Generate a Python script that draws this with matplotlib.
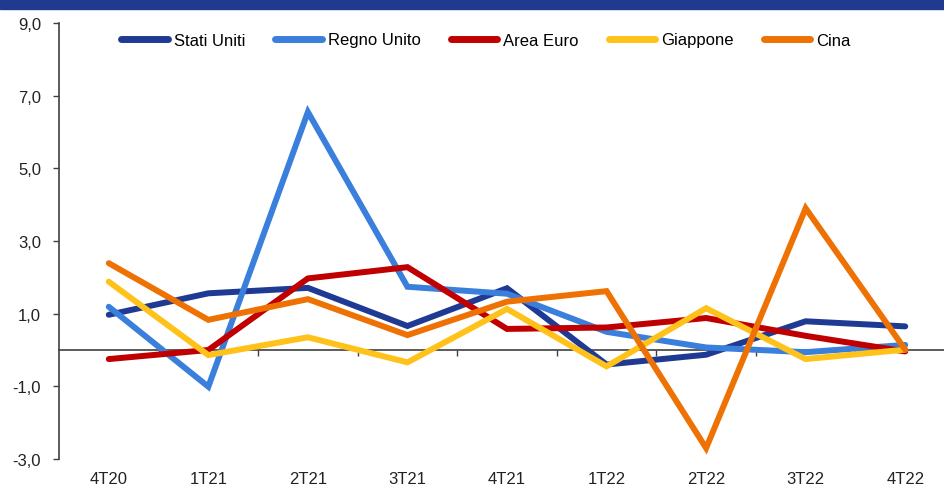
import matplotlib
matplotlib.use("Agg")
import matplotlib.pyplot as plt
from matplotlib.patches import Rectangle
from matplotlib.ticker import FuncFormatter, FixedLocator

plt.rcParams['font.family'] = ['Liberation Sans', 'DejaVu Sans']

categories = ["4T20", "1T21", "2T21", "3T21", "4T21", "1T22", "2T22", "3T22", "4T22"]
stati_uniti = [0.97, 1.56, 1.71, 0.66, 1.70, -0.40, -0.13, 0.79, 0.65]
regno_unito = [1.19, -1.01, 6.55, 1.74, 1.55, 0.50, 0.07, -0.06, 0.14]
area_euro = [-0.25, 0.0, 1.97, 2.28, 0.58, 0.62, 0.88, 0.39, -0.04]
giappone = [1.88, -0.14, 0.35, -0.34, 1.13, -0.45, 1.15, -0.25, 0.01]
cina = [2.39, 0.83, 1.40, 0.41, 1.33, 1.62, -2.70, 3.90, 0.01]

series = [
    ("Stati Uniti", stati_uniti, "#1F3A93"),
    ("Regno Unito", regno_unito, "#3A7FDB"),
    ("Area Euro", area_euro, "#C00000"),
    ("Giappone", giappone, "#FFC21A"),
    ("Cina", cina, "#EE7203"),
]

W, H = 944, 489
fig = plt.figure(figsize=(W / 100, H / 100), dpi=100)
ax = fig.add_axes([59 / W, (H - 460) / H, 896 / W, 436 / H])

x = list(range(len(categories)))
handles = []
for name, vals, col in series:
    h, = ax.plot(x, vals, color=col, lw=4.3, solid_capstyle='round',
                 solid_joinstyle='miter', label=name, zorder=3)
    handles.append(h)

ax.set_xlim(-0.5, len(categories) - 0.5)
ax.set_ylim(-3, 9)
ax.set_yticks([-3, -1, 1, 3, 5, 7, 9])
ax.yaxis.set_major_formatter(FuncFormatter(lambda v, p: f"{v:.1f}".replace('.', ',')))
ax.tick_params(axis='y', direction='out', length=4, width=1, color='#404040',
               labelsize=12, pad=9, labelcolor='#222222')

for s in ['top', 'right']:
    ax.spines[s].set_visible(False)
ax.spines['left'].set_color('#404040')
ax.spines['left'].set_linewidth(1.2)
ax.spines['bottom'].set_position(('data', 0))
ax.spines['bottom'].set_color('#404040')
ax.spines['bottom'].set_linewidth(1.2)
ax.spines['bottom'].set_zorder(2)

ax.xaxis.set_major_locator(FixedLocator([i + 0.5 for i in range(len(categories) - 1)]))
ax.tick_params(axis='x', direction='out', length=4, width=1, color='#404040',
               labelbottom=False)

sec = ax.secondary_xaxis('bottom')
sec.set_xticks(x, categories)
sec.tick_params(length=0, pad=9, labelsize=12, labelcolor='#222222')
sec.spines['bottom'].set_visible(False)

fig.legend(handles=handles, loc='center', bbox_to_anchor=(486 / W, 1 - 41 / H),
           ncol=5, frameon=False, fontsize=12, handlelength=2.8,
           handletextpad=0.35, columnspacing=1.8)
for lh in fig.legends[0].get_lines():
    lh.set_linewidth(5)
    lh.set_solid_capstyle('round')

fig.patches.append(Rectangle((0, 1 - 10 / H), 1, 10 / H, transform=fig.transFigure,
                             color='#1F3A8F', zorder=0))

fig.savefig("out.png", dpi=100)
